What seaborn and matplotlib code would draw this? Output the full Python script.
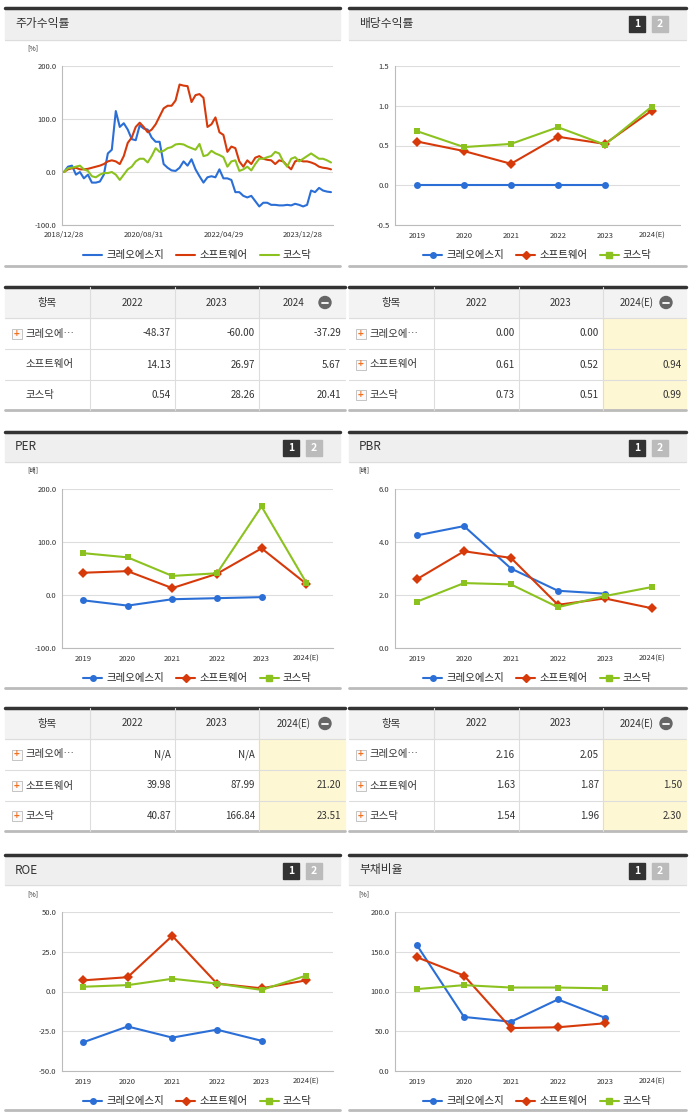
import numpy as np
import pandas as pd
import seaborn as sns
import matplotlib.pyplot as plt
from matplotlib.patches import Rectangle
from matplotlib.lines import Line2D

sns.set_theme(style="white")
plt.rcParams['font.family'] = ['Noto Sans CJK KR', 'DejaVu Sans']

names = ['크레오에스지', '소프트웨어', '코스닥']
colors = ['#2b6fd6', '#d63a0b', '#8cc21f']
markers = ['o', 'D', 's']

# monthly stock return, 2018/12 .. 2024/07
price_ticks = ['2018/12/28', '2020/08/31', '2022/04/29', '2023/12/28']
creo_ret = [0, 10, 12, -5, 0, -12, -5, -20, -20, -18, -5, 35, 42, 115, 85, 92, 80, 62, 60, 88,
            82, 80, 65, 57, 57, 15, 8, 3, 2, 8, 20, 12, 24, 5, -8, -20, -10, -8, -10, 5,
            -12, -12, -15, -38, -38, -45, -48, -45, -55, -65, -58, -58, -62, -62, -63, -63, -62, -63, -60, -62,
            -65, -62, -35, -38, -30, -35, -37, -38]
sw_ret = [0, 5, 7, 8, 5, 5, 6, 8, 10, 12, 15, 20, 22, 20, 15, 30, 55, 65, 85, 93,
          85, 75, 80, 90, 105, 120, 125, 125, 135, 165, 163, 162, 132, 145, 147, 140, 85, 90, 103, 75,
          70, 38, 48, 45, 20, 10, 22, 15, 27, 30, 25, 23, 22, 15, 22, 20, 12, 5, 20, 23,
          20, 20, 18, 15, 10, 8, 7, 5]
kq_ret = [0, 7, 8, 10, 12, 5, 2, -8, -10, -5, -2, -2, 0, -5, -15, -5, 5, 10, 20, 25,
          25, 18, 30, 45, 38, 40, 45, 47, 52, 53, 52, 48, 45, 42, 53, 30, 32, 40, 35, 32,
          28, 10, 20, 22, 2, 5, 10, 3, 15, 25, 25, 28, 30, 38, 35, 20, 10, 25, 28, 20,
          25, 30, 35, 30, 25, 25, 22, 18]

years = ['2019', '2020', '2021', '2022', '2023', '2024(E)']
div = [[0, 0, 0, 0, 0, None], [.55, .43, .27, .61, .52, .94], [.68, .48, .52, .73, .51, .99]]
per = [[-10, -20, -8, -6, -4, None], [42, 45, 13, 40, 88, 21.2], [79, 71, 36, 41, 167, 23.5]]
pbr = [[4.25, 4.6, 3.0, 2.16, 2.05, None], [2.6, 3.65, 3.4, 1.63, 1.87, 1.50], [1.75, 2.45, 2.4, 1.54, 1.96, 2.30]]
roe = [[-32, -22, -29, -24, -31, None], [7, 9, 35, 5, 2, 7], [3, 4, 8, 5, 1, 10]]
debt = [[158, 68, 62, 90, 67, None], [143, 120, 54, 55, 60, None], [103, 108, 105, 105, 104, None]]

tbl_ret = [['-48.37', '-60.00', '-37.29'], ['14.13', '26.97', '5.67'], ['0.54', '28.26', '20.41']]
tbl_div = [['0.00', '0.00', ''], ['0.61', '0.52', '0.94'], ['0.73', '0.51', '0.99']]
tbl_per = [['N/A', 'N/A', ''], ['39.98', '87.99', '21.20'], ['40.87', '166.84', '23.51']]
tbl_pbr = [['2.16', '2.05', ''], ['1.63', '1.87', '1.50'], ['1.54', '1.96', '2.30']]

W, H = 691, 1115
fig = plt.figure(figsize=(W / 100, H / 100), dpi=100)


def px_ax(x0, y0, x1, y1, **kw):
    return fig.add_axes([x0 / W, 1 - y1 / H, (x1 - x0) / W, (y1 - y0) / H], **kw)


canvas = px_ax(0, 0, W, H)
canvas.set_xlim(0, W)
canvas.set_ylim(H, 0)
canvas.axis('off')


def header(x0, x1, y0, y1, title, badges=True):
    canvas.add_patch(Rectangle((x0, y0), x1 - x0, y1 - y0, color='#efefef', zorder=0))
    canvas.plot([x0, x1], [y0, y0], color='#333333', lw=2.5)
    canvas.plot([x0, x1], [y1, y1], color='#dddddd', lw=0.8)
    canvas.text(x0 + 10, (y0 + y1) / 2, title, fontsize=8.5, va='center', color='#333')
    if badges:
        canvas.add_patch(Rectangle((x1 - 57, y0 + 8), 16, 16, color='#333333'))
        canvas.text(x1 - 49, y0 + 16, '1', color='white', fontsize=7.5, ha='center', va='center', weight='bold')
        canvas.add_patch(Rectangle((x1 - 34, y0 + 8), 16, 16, color='#bbbbbb'))
        canvas.text(x1 - 26, y0 + 16, '2', color='white', fontsize=7.5, ha='center', va='center', weight='bold')


def footer(x0, x1, y):
    canvas.plot([x0, x1], [y, y], color='#bbbbbb', lw=2)


def style_ax(ax, ylim, yticks, fmt, unit):
    ax.set_ylim(*ylim)
    ax.set_yticks(yticks)
    ax.set_yticklabels([fmt.format(v) for v in yticks], fontsize=5.5, color='#333')
    ax.tick_params(axis='x', labelsize=5.5, colors='#333', length=0, pad=5)
    ax.tick_params(axis='y', length=0, pad=4)
    ax.grid(axis='y', color='#dddddd', lw=0.8)
    for s in ['top', 'right']:
        ax.spines[s].set_visible(False)
    ax.spines['left'].set_color('#bbbbbb')
    ax.spines['bottom'].set_color('#bbbbbb')
    ax.spines['left'].set_linewidth(0.8)
    ax.spines['bottom'].set_linewidth(0.8)
    ax.set_xlabel('')
    ax.set_ylabel('')
    ax.text(-0.13, 1.1, unit, transform=ax.transAxes, fontsize=5, color='#333')
    handles = [Line2D([], [], color=c, marker=m, lw=1.5, markersize=4) for c, m in zip(colors, markers)]
    ax.legend(handles, names, loc='upper center', bbox_to_anchor=(0.5, -0.1), ncol=3, frameon=False,
              fontsize=7.5, handlelength=1.8, columnspacing=1.2, handletextpad=0.4)


def cat_chart(box, vals, ylim, yticks, fmt, unit):
    ax = px_ax(*box)
    rows = []
    for n, v in zip(names, vals):
        for y, val in zip(years, v):
            rows.append({'year': y, 'name': n, 'val': val})
    df = pd.DataFrame(rows)
    df['x'] = df['year'].map({y: i for i, y in enumerate(years)})
    for n, c, m in zip(names, colors, markers):
        sub = df[df['name'] == n].dropna()
        sns.lineplot(data=sub, x='x', y='val', color=c, marker=m, markersize=5, markeredgewidth=0,
                     lw=1.5, ax=ax, legend=False)
    ax.set_xticks(range(len(years)))
    ax.set_xticklabels(years)
    ax.set_xlim(-0.47, 5.6)
    style_ax(ax, ylim, yticks, fmt, unit)
    return ax


def table(x0, x1, y0, cols, data, est, expand):
    xs = [x0, x0 + 85, x0 + 170, x0 + 254, x1]
    ys = [y0, y0 + 31, y0 + 62, y0 + 93, y0 + 123]
    canvas.add_patch(Rectangle((x0, ys[0]), x1 - x0, 31, color='#f3f3f3', zorder=0))
    if est:
        canvas.add_patch(Rectangle((xs[3], ys[1]), x1 - xs[3], ys[4] - ys[1], color='#fdf7d3', zorder=0))
    canvas.plot([x0, x1], [y0, y0], color='#333', lw=2.5)
    for y in ys[1:4]:
        canvas.plot([x0, x1], [y, y], color='#dddddd', lw=0.8)
    canvas.plot([x0, x1], [ys[4], ys[4]], color='#bbbbbb', lw=2)
    for x in xs[1:4]:
        canvas.plot([x, x], [y0, ys[4]], color='#dddddd', lw=0.8)
    canvas.text((xs[0] + xs[1]) / 2, y0 + 15.5, '항목', ha='center', va='center', fontsize=7.5, color='#333')
    for i, c in enumerate(cols):
        xc = (xs[i + 1] + xs[i + 2]) / 2
        if i == 2:
            xc -= 8
        canvas.text(xc, y0 + 15.5, c, ha='center', va='center', fontsize=7, color='#333')
    canvas.add_patch(plt.Circle((xs[4] - 20, y0 + 15.5), 6, color='#666'))
    canvas.plot([xs[4] - 23, xs[4] - 17], [y0 + 15.5] * 2, color='white', lw=1.3)
    labels = ['크레오에…', '소프트웨어', '코스닥']
    for r in range(3):
        yc = (ys[r + 1] + ys[r + 2]) / 2
        if expand[r]:
            canvas.add_patch(Rectangle((x0 + 7, yc - 5), 10, 10, facecolor='#fafafa', edgecolor='#bbb', lw=0.6))
            canvas.text(x0 + 12, yc, '+', color='#f07020', ha='center', va='center', fontsize=7, weight='bold')
        canvas.text(x0 + 21, yc, labels[r], va='center', fontsize=7.5, color='#333')
        for i in range(3):
            canvas.text(xs[i + 2] - 4, yc, data[r][i], ha='right', va='center', fontsize=7, color='#333')


# ---- stock return
header(5, 340, 8, 40, '주가수익률', badges=False)
header(349, 686, 8, 40, '배당수익률')
ax = px_ax(62, 66, 333, 225)
df = pd.DataFrame({'m': np.arange(len(creo_ret)), names[0]: creo_ret, names[1]: sw_ret, names[2]: kq_ret})
df = df.melt(id_vars='m', var_name='name', value_name='val')
sns.lineplot(data=df, x='m', y='val', hue='name', palette=colors, lw=1.5, ax=ax, legend=False)
ax.set_xticks([0, 20, 40, 60])
ax.set_xticklabels(price_ticks)
ax.set_xlim(-0.5, 67.5)
style_ax(ax, (-100, 200), [-100, 0, 100, 200], '{:.1f}', '[%]')
for l in ax.get_legend().get_lines():
    l.set_marker('')
ax.tick_params(axis='x', length=3, color='#bbb', pad=1)
footer(5, 340, 266)

cat_chart((395, 66, 680, 225), div, (-0.5, 1.5), [-0.5, 0, 0.5, 1.0, 1.5], '{:.1f}', '')
footer(349, 686, 266)

table(5, 345, 287, ['2022', '2023', '2024'], tbl_ret, False, [True, False, False])
table(349, 686, 287, ['2022', '2023', '2024(E)'], tbl_div, True, [True, True, True])

# ---- PER / PBR
header(5, 340, 432, 462, 'PER')
header(349, 686, 432, 462, 'PBR')
cat_chart((62, 489, 333, 648), per, (-100, 200), [-100, 0, 100, 200], '{:.1f}', '[배]')
cat_chart((395, 489, 680, 648), pbr, (0, 6), [0, 2, 4, 6], '{:.1f}', '[배]')
footer(5, 340, 688)
footer(349, 686, 688)
table(5, 345, 708, ['2022', '2023', '2024(E)'], tbl_per, True, [True, True, True])
table(349, 686, 708, ['2022', '2023', '2024(E)'], tbl_pbr, True, [True, True, True])

# ---- ROE / debt
header(5, 340, 855, 885, 'ROE')
header(349, 686, 855, 885, '부채비율')
cat_chart((62, 912, 333, 1071), roe, (-50, 50), [-50, -25, 0, 25, 50], '{:.1f}', '[%]')
cat_chart((395, 912, 680, 1071), debt, (0, 200), [0, 50, 100, 150, 200], '{:.1f}', '[%]')
footer(5, 340, 1110)
footer(349, 686, 1110)

fig.savefig('out.png', dpi=100)
